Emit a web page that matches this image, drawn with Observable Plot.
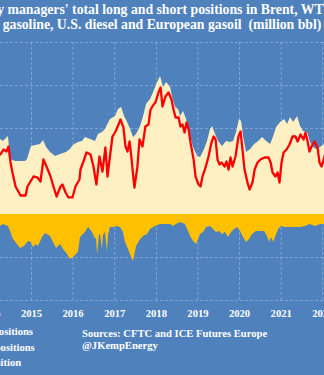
<!DOCTYPE html>
<html>
<head>
<meta charset="utf-8">
<script src="https://cdn.jsdelivr.net/npm/d3@7"></script>
<script src="https://cdn.jsdelivr.net/npm/@observablehq/plot@0.6"></script>
<style>
html,body{margin:0;padding:0;background:#4F81BD;width:324px;height:375px;overflow:hidden;}
body{position:relative;font-family:"Liberation Serif","Times New Roman",serif;font-weight:bold;color:#fff;}
.t{position:absolute;left:162px;transform:translateX(-50%);white-space:pre;font-size:12.5px;line-height:1;}
#chart{position:absolute;left:0;top:0;}
.leg{position:absolute;white-space:nowrap;font-size:10.6px;line-height:1;}
.sw{position:absolute;left:-18px;top:1px;width:12px;height:8px;}
#src{position:absolute;left:82px;top:328px;font-size:10.6px;line-height:12.3px;white-space:nowrap;}
</style>
</head>
<body>
<div class="t" id="t1">Money managers' total long and short positions in Brent, WTI, U.S.</div>
<div class="t" id="t2">gasoline, U.S. diesel and European gasoil  (million bbl)</div>
<div id="chart"></div>
<div class="leg" id="l1"><span class="sw" style="background:#FFF0C4"></span>Long positions</div>
<div class="leg" id="l2"><span class="sw" style="background:#FFC000"></span>Short positions</div>
<div class="leg" id="l3"><span class="sw" style="background:#FF0000;height:3px;top:4px"></span>Net position</div>
<div id="src">Sources: CFTC and ICE Futures Europe<br>@JKempEnergy</div>
<script>
// ---- data (million bbl) ----
const tickLabels = ["2014","2015","2016","2017","2018","2019","2020","2021","2022"];
const gridValues = [-1000,-500,0,500,1000,1500,2000];

const longDates = ["2014-03-20","2014-04-04","2014-04-30","2014-06-13","2014-07-01","2014-08-14","2014-11-10","2014-11-27",
"2015-01-01","2015-03-21","2015-04-16","2015-05-13","2015-06-17","2015-07-31","2015-09-13","2015-11-04","2015-12-09",
"2016-01-04","2016-02-17","2016-03-24","2016-04-19","2016-06-02","2016-07-16","2016-08-11","2016-09-15","2016-10-11","2016-11-24",
"2017-01-08","2017-02-03","2017-03-02","2017-03-28","2017-04-23","2017-05-20","2017-06-15","2017-07-11","2017-08-16","2017-09-11","2017-10-07","2017-11-11","2017-12-08",
"2018-01-12","2018-02-07","2018-03-05","2018-04-01","2018-05-06","2018-05-23","2018-06-19","2018-07-15","2018-08-01","2018-08-28","2018-09-23","2018-10-28","2018-11-24","2018-12-29",
"2019-01-24","2019-02-28","2019-03-26","2019-04-22","2019-05-09","2019-06-05","2019-07-01","2019-08-05","2019-09-09","2019-10-14","2019-11-10","2019-12-06",
"2020-01-01","2020-01-19","2020-02-05","2020-03-03","2020-04-08","2020-05-13","2020-06-17","2020-07-22","2020-08-26","2020-09-30","2020-10-27","2020-11-22","2020-12-27",
"2021-01-31","2021-02-26","2021-03-24","2021-04-19","2021-05-25","2021-06-20","2021-07-16","2021-08-21","2021-09-15","2021-10-11","2021-11-08","2021-12-13",
"2022-01-16","2022-01-30"];
const longValues = [860,872,849,907,640,616,616,640,
791,814,861,779,721,675,698,721,756,
802,837,849,895,872,849,930,954,989,1105,
1140,1221,1244,1140,1070,989,895,930,1023,1140,1279,1337,1419,
1535,1605,1477,1535,1477,1361,1244,1221,1140,1198,1105,907,779,675,
663,756,849,989,1023,930,849,791,849,837,849,954,
1105,1082,907,721,756,814,849,895,849,814,907,1012,1070,
1105,1047,1128,1070,1140,1023,965,954,837,779,756,779,
814,820];

const netDates = ["2014-03-20","2014-04-04","2014-04-30","2014-05-27","2014-06-13","2014-07-01","2014-07-18","2014-08-14","2014-09-27","2014-11-10","2014-11-27","2014-12-23",
"2015-01-19","2015-02-23","2015-03-21","2015-04-16","2015-05-13","2015-06-17","2015-07-13","2015-08-09","2015-09-13","2015-09-30","2015-10-27","2015-11-22","2015-12-27",
"2016-01-22","2016-02-26","2016-03-06","2016-04-01","2016-04-28","2016-06-02","2016-06-28","2016-07-24","2016-08-20","2016-09-15","2016-10-11","2016-10-29","2016-11-24","2016-12-12",
"2017-01-08","2017-02-03","2017-02-20","2017-03-18","2017-04-05","2017-04-23","2017-05-11","2017-05-29","2017-06-15","2017-06-23","2017-07-19","2017-08-06","2017-09-01","2017-09-27","2017-10-24","2017-11-11","2017-12-08","2017-12-24",
"2018-01-20","2018-02-07","2018-02-24","2018-03-22","2018-04-18","2018-05-14","2018-06-01","2018-06-19","2018-07-15","2018-08-01","2018-08-19","2018-09-06","2018-09-23","2018-10-11","2018-10-28","2018-11-24","2018-12-11",
"2019-01-06","2019-01-24","2019-02-10","2019-03-09","2019-04-04","2019-04-30","2019-05-18","2019-06-05","2019-06-22","2019-07-10","2019-07-27","2019-08-23","2019-09-09","2019-09-27","2019-10-14","2019-11-01","2019-11-27","2019-12-23",
"2020-01-10","2020-01-27","2020-02-14","2020-03-11","2020-03-29","2020-04-24","2020-05-13","2020-06-07","2020-07-03","2020-08-08","2020-09-12","2020-09-30","2020-10-17","2020-11-12","2020-11-30","2020-12-17",
"2021-01-04","2021-01-22","2021-02-17","2021-03-15","2021-04-10","2021-05-07","2021-05-25","2021-06-20","2021-07-16","2021-08-02","2021-08-21","2021-09-06","2021-09-24","2021-10-20","2021-11-16","2021-12-03","2021-12-21",
"2022-01-16","2022-01-30"];
const netValues = [700,698,756,733,791,605,488,326,221,221,326,384,
442,430,384,640,558,442,326,209,326,349,256,198,198,
326,407,523,616,721,698,558,349,675,500,779,442,721,907,
965,1047,1105,1012,791,733,849,640,407,314,558,872,791,1023,1047,1221,1279,1302,
1419,1477,1256,1372,1419,1337,1221,1128,1128,1023,1047,954,1070,989,837,640,442,
349,326,442,547,675,837,907,872,640,581,605,558,616,523,663,558,675,907,
965,756,523,372,291,372,523,605,640,663,663,605,488,442,488,372,
605,721,756,814,907,907,849,930,872,954,849,733,791,849,779,605,558,
675,733];

const shortDates = ["2014-03-20","2014-04-04","2014-04-30","2014-06-13","2014-07-01","2014-07-27","2014-08-31","2014-09-27","2014-11-01","2014-12-06",
"2015-01-01","2015-01-19","2015-02-14","2015-03-03","2015-04-08","2015-05-04","2015-06-17","2015-07-13","2015-08-09","2015-09-13","2015-10-09","2015-11-13","2015-12-09",
"2016-01-04","2016-02-17","2016-03-06","2016-04-19","2016-05-16","2016-06-20","2016-07-16","2016-07-24","2016-08-03","2016-08-20","2016-08-29","2016-09-15","2016-09-24","2016-10-11","2016-10-29","2016-11-07","2016-11-24","2016-12-21",
"2017-01-25","2017-02-20","2017-03-18","2017-04-05","2017-05-02","2017-05-29","2017-06-15","2017-07-11","2017-08-16","2017-09-11","2017-10-16","2017-11-11","2017-12-24",
"2018-02-07","2018-03-22","2018-05-06","2018-06-01","2018-06-27","2018-08-01","2018-09-14","2018-10-11","2018-10-28","2018-11-24","2018-12-20",
"2019-01-06","2019-01-24","2019-02-19","2019-03-18","2019-04-22","2019-05-18","2019-06-13","2019-07-10","2019-08-05","2019-08-31","2019-09-27","2019-10-23","2019-11-18","2019-12-15",
"2020-01-10","2020-02-05","2020-03-03","2020-03-29","2020-04-24","2020-05-30","2020-07-03","2020-08-08","2020-09-03","2020-09-21","2020-10-09","2020-10-27","2020-11-12","2020-12-09",
"2021-01-04","2021-02-09","2021-03-24","2021-05-07","2021-06-20","2021-08-02","2021-09-15","2021-10-30","2021-12-13",
"2022-01-16","2022-01-30"];
const shortValues = [-140,-140,-116,-140,-198,-291,-349,-395,-372,-314,
-326,-384,-349,-372,-267,-221,-256,-326,-395,-349,-407,-465,-523,
-500,-442,-267,-209,-151,-209,-291,-267,-465,-244,-233,-407,-244,-209,-430,-244,-151,-151,
-140,-151,-209,-326,-407,-500,-547,-372,-291,-256,-233,-174,-140,
-116,-116,-116,-140,-116,-93,-116,-198,-256,-314,-349,
-291,-233,-209,-151,-140,-174,-209,-198,-233,-209,-267,-209,-174,-151,
-198,-267,-326,-291,-233,-198,-198,-198,-256,-326,-267,-326,-267,-174,
-140,-151,-151,-151,-151,-140,-116,-140,-116,
-116,-116];

// ---- build tables ----
const parse = d3.utcParse("%Y-%m-%d");
const toRows = (dates, vals) => dates.map((d, i) => ({date: parse(d), value: vals[i]}));
const longRows = toRows(longDates, longValues);
const netRows = toRows(netDates, netValues);
const shortRows = toRows(shortDates, shortValues);
const yearTicks = tickLabels.map(y => parse(y + "-01-01"));

const gridStyle = {stroke: "#a4c0e6", strokeOpacity: 0.55, strokeWidth: 1, strokeDasharray: "3,2"};

const chart = Plot.plot({
  width: 324,
  height: 330,
  marginTop: 42,
  marginBottom: 30,
  marginLeft: 0,
  marginRight: 0,
  style: {background: "transparent", color: "#ffffff", fontFamily: "'Liberation Serif', serif", fontWeight: "bold", fontSize: "10.6px"},
  x: {type: "utc", domain: [parse("2014-04-04"), parse("2022-01-16")], ticks: yearTicks, tickFormat: d3.utcFormat("%Y"), tickSize: 0, tickPadding: 9, label: null},
  y: {domain: [-1000, 2000], axis: null},
  marks: [
    Plot.ruleY(gridValues, gridStyle),
    Plot.ruleX(yearTicks, {...gridStyle, clip: true}),
    Plot.areaY(longRows, {x: "date", y: "value", fill: "#FFF0C4", clip: true}),
    Plot.areaY(shortRows, {x: "date", y: "value", fill: "#FFC000", clip: true}),
    Plot.line(netRows, {x: "date", y: "value", stroke: "#FF0000", strokeWidth: 2.3, clip: true})
  ]
});
document.getElementById("chart").appendChild(chart);

// ---- layout of text ----
const t1 = document.getElementById("t1"), t2 = document.getElementById("t2");
const w2 = t2.getBoundingClientRect().width;
const fs = 12.5 * 319 / w2;
[t1, t2].forEach(t => t.style.fontSize = fs + "px");
const base = 0.8375 * fs;
t1.style.top = (15 - base) + "px";
t2.style.top = (29.3 - base) + "px";

const l1 = document.getElementById("l1");
const wl = l1.getBoundingClientRect().width;
const legLeft = 33 - wl;
[["l1", 336], ["l2", 351.7], ["l3", 367.3]].forEach(([id, b]) => {
  const el = document.getElementById(id);
  el.style.left = legLeft + "px";
  el.style.top = (b - 0.8375 * 10.6) + "px";
});
</script>
</body>
</html>
